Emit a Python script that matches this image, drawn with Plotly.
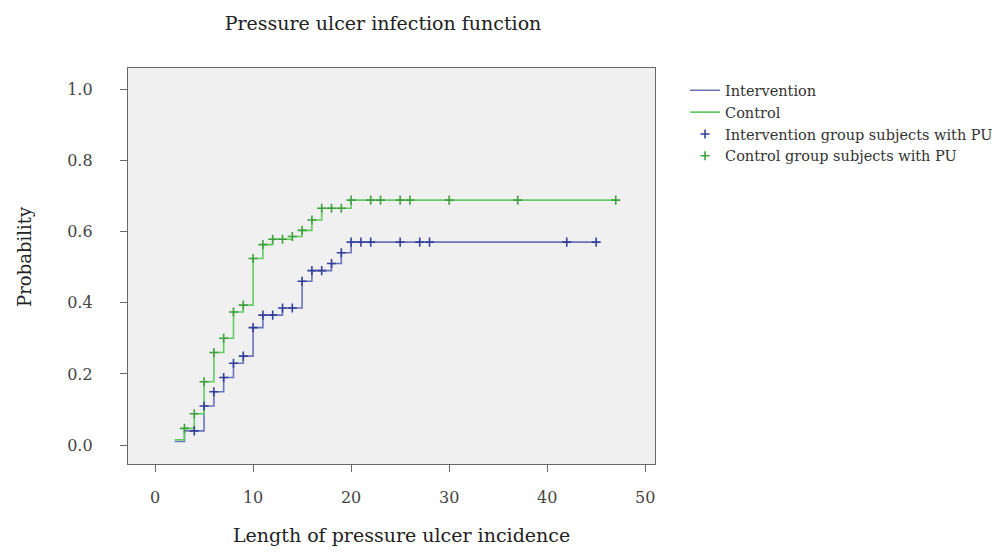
import numpy as np
import plotly.graph_objects as go

# ---- data ----
int_times = [2, 3, 5, 6, 7, 8, 9, 10, 11, 13, 15, 16, 18, 19, 20, 45]
int_values = [0.01, 0.04, 0.11, 0.15, 0.19, 0.23, 0.25, 0.33, 0.365, 0.385, 0.46, 0.49, 0.51, 0.54, 0.57, 0.57]
int_censor = [4, 5, 6, 7, 8, 9, 10, 11, 12, 13, 14, 15, 16, 17, 18, 19, 20, 21, 22, 25, 27, 28, 42, 45]

ctl_times = [2, 3, 4, 5, 6, 7, 8, 9, 10, 11, 12, 14, 15, 16, 17, 20, 47]
ctl_values = [0.015, 0.047, 0.088, 0.178, 0.26, 0.30, 0.374, 0.393, 0.524, 0.563, 0.578, 0.586, 0.603, 0.632, 0.665, 0.688, 0.688]
ctl_censor = [3, 4, 5, 6, 7, 8, 9, 10, 11, 12, 13, 14, 15, 16, 17, 18, 19, 20, 22, 23, 25, 26, 30, 37, 47]

x_ticks = [0, 10, 20, 30, 40, 50]
y_ticks = [0.0, 0.2, 0.4, 0.6, 0.8, 1.0]
y_tick_text = ["0.0", "0.2", "0.4", "0.6", "0.8", "1.0"]

BLUE_LINE = "#6a74bc"
BLUE_MARK = "#34409a"
GREEN_LINE = "#62cc62"
GREEN_MARK = "#3fa03f"
FONT = "DejaVu Serif"


def step_at(times, values, t):
    idx = np.searchsorted(np.array(times), t, side="right") - 1
    return values[max(idx, 0)]


fig = go.Figure()
fig.add_trace(go.Scatter(x=int_times, y=int_values, mode="lines", line_shape="hv",
                         line=dict(color=BLUE_LINE, width=1.6), name="Intervention"))
fig.add_trace(go.Scatter(x=ctl_times, y=ctl_values, mode="lines", line_shape="hv",
                         line=dict(color=GREEN_LINE, width=1.6), name="Control"))
fig.add_trace(go.Scatter(x=int_censor, y=[step_at(int_times, int_values, t) for t in int_censor],
                         mode="markers", name="Intervention group subjects with PU",
                         marker=dict(symbol="cross-thin", size=6.5, line=dict(color=BLUE_MARK, width=1.6))))
fig.add_trace(go.Scatter(x=ctl_censor, y=[step_at(ctl_times, ctl_values, t) for t in ctl_censor],
                         mode="markers", name="Control group subjects with PU",
                         marker=dict(symbol="cross-thin", size=6.5, line=dict(color=GREEN_MARK, width=1.6))))

axis_common = dict(showgrid=False, zeroline=False, showline=True, linecolor="#666666", linewidth=1.3,
                   mirror=True, ticks="outside", ticklen=7, tickcolor="#666666", tickwidth=1.3,
                   tickfont=dict(family=FONT, size=16, color="#444444"))

fig.update_layout(
    width=1005, height=553,
    margin=dict(l=128, r=350, t=68, b=89, autoexpand=False),
    paper_bgcolor="white", plot_bgcolor="#f0f0f0",
    title=dict(text="Pressure ulcer infection function", x=(383) / 1005, xanchor="center",
               y=1 - 23 / 553, yanchor="middle", font=dict(family=FONT, size=19, color="#222222")),
    xaxis=dict(range=[-2.76, 51.0], tickvals=x_ticks, ticktext=[str(v) for v in x_ticks],
               ticklabelstandoff=12, **axis_common),
    yaxis=dict(range=[-0.053, 1.059], tickvals=y_ticks, ticktext=y_tick_text,
               ticklabelstandoff=24, **axis_common),
    legend=dict(x=1.057, y=0.984, xanchor="left", yanchor="top", bgcolor="rgba(0,0,0,0)",
                font=dict(family=FONT, size=14.5, color="#333333"), tracegroupgap=0, itemwidth=30),
    showlegend=True,
    annotations=[
        dict(text="Length of pressure ulcer incidence", xref="paper", yref="paper",
             x=(401 - 128) / 527, y=-0.179, xanchor="center", yanchor="middle", showarrow=False,
             font=dict(family=FONT, size=19, color="#222222")),
        dict(text="Probability", xref="paper", yref="paper", x=(25 - 128) / 527, y=0.523,
             xanchor="center", yanchor="middle", textangle=-90, showarrow=False,
             font=dict(family=FONT, size=18, color="#222222")),
    ],
)

fig.write_html("out.html")
